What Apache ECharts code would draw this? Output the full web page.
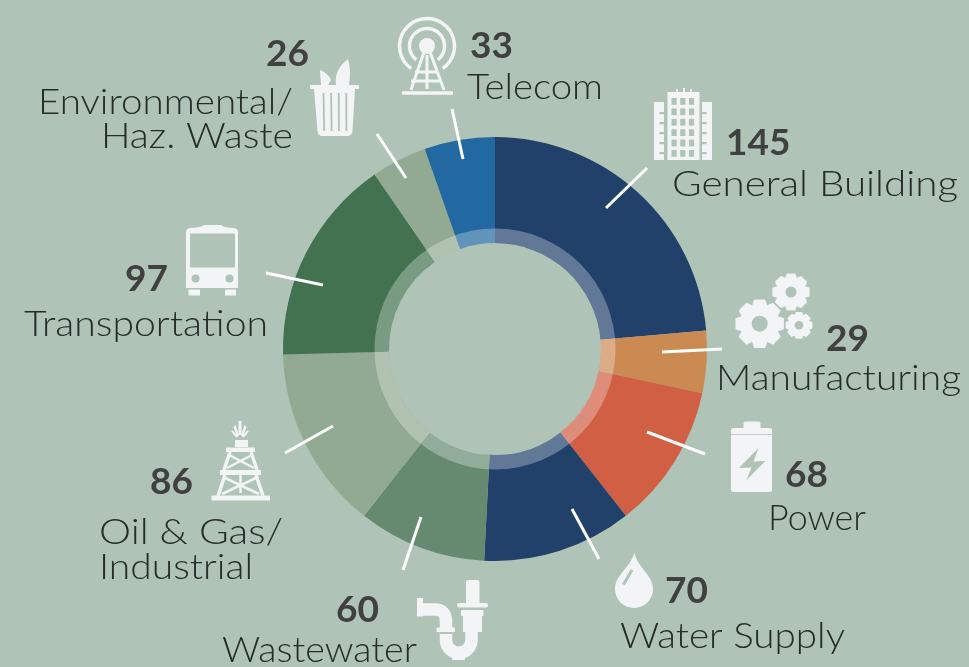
<!DOCTYPE html>
<html>
<head>
<meta charset="utf-8">
<title>Projects by market</title>
<style>
  html, body { margin: 0; padding: 0; background: #afc3b6; }
  #chart { width: 969px; height: 667px; }
</style>
<script src="https://cdn.jsdelivr.net/npm/echarts@6/dist/echarts.min.js"></script>
</head>
<body>
<div id="chart"></div>
<script>
// slices are drawn from the printed numbers
const categories = ['General Building', 'Manufacturing', 'Power', 'Water Supply', 'Wastewater', 'Oil & Gas/\nIndustrial', 'Transportation', 'Environmental/\nHaz. Waste', 'Telecom']
const sliceValues = [145, 29, 68, 70, 60, 86, 97, 26, 33]
const sliceColors = ['#21416b', '#cc8a53', '#d05f43', '#21416b', '#658a70', '#92a992', '#437250', '#92a992', '#2169a0']

const BG = '#afc3b6'
const ICON = '#f2f4f6'
const NAME_FONT = '300 36px Lato'
const NUMBER_FONT = 'bold 37px Lato'

// callout layout, same order as categories: number anchor, name anchor, align, width of each name line
const callouts = [
  { num: [726, 143], name: [672, 184], align: 'left', widths: [286] },
  { num: [826, 339], name: [716, 378], align: 'left', widths: [245] },
  { num: [785, 475], name: [768, 518], align: 'left', widths: [98] },
  { num: [665, 591], name: [620, 636], align: 'left', widths: [225] },
  { num: [336, 610], name: [222, 650], align: 'left', widths: [195] },
  { num: [150, 482], name: [99, 532, 567], align: 'left', widths: [184, 154] },
  { num: [125, 279], name: [24, 324], align: 'left', widths: [244] },
  { num: [266, 54], name: [293, 102, 136], align: 'right', widths: [255, 192] },
  { num: [470, 46], name: [467, 87], align: 'left', widths: [136] }
]

// white leader lines [x1, y1, x2, y2]
const leaders = [
  [606, 208, 647, 168], [662, 352, 722, 349], [647, 432, 705, 454],
  [572, 509, 599, 559], [421, 517, 403, 570], [333, 426, 285, 453],
  [323, 285, 266, 273], [406, 178, 377, 134], [463, 159, 452, 109]
]

const rect = (x, y, w, h, fill = ICON, r = 0) => ({ type: 'rect', z: 20, silent: true, shape: { x, y, width: w, height: h, r }, style: { fill } })
const line = (x1, y1, x2, y2, lineWidth = 3, stroke = ICON) => ({ type: 'line', z: 20, silent: true, shape: { x1, y1, x2, y2 }, style: { stroke, lineWidth } })
const circle = (cx, cy, r, fill = ICON) => ({ type: 'circle', z: 20, silent: true, shape: { cx, cy, r }, style: { fill } })
const poly = (points, fill = ICON, extra = {}) => ({ type: 'polygon', z: 20, silent: true, shape: { points }, style: { fill, ...extra } })
const arc = (cx, cy, r, startDeg, endDeg, lineWidth) => ({
  type: 'arc', z: 20, silent: true,
  shape: { cx, cy, r, startAngle: startDeg * Math.PI / 180, endAngle: endDeg * Math.PI / 180 },
  style: { stroke: ICON, fill: 'none', lineWidth }
})

// the graphic component has no plain path type, so each icon outline gets registered as a shape
let shapeCount = 0
const svg = (d, style) => {
  const name = 'iconPath' + shapeCount++
  echarts.graphic.registerShape(name, echarts.graphic.extendPath(d, {}))
  return { type: name, z: 20, silent: true, style }
}

function gear(cx, cy, r, hole, teeth) {
  const pts = []
  const step = Math.PI * 2 / teeth
  for (let i = 0; i < teeth; i++) {
    const a = i * step
    const rows = [[-0.5, 0.74], [-0.27, 0.96], [0.27, 0.96], [0.5, 0.74]]
    rows.forEach(([k, f]) => pts.push([cx + Math.cos(a + k * step) * r * f, cy + Math.sin(a + k * step) * r * f]))
  }
  return [poly(pts, ICON, { stroke: ICON, lineWidth: 1.5, lineJoin: 'round' }), circle(cx, cy, hole, BG)]
}

function telecomIcon() {
  return [
    arc(427, 46, 27.5, 125, 415, 3.5),
    arc(427, 46, 17.5, 128, 412, 3.5),
    circle(427, 46, 8),
    line(424, 52, 411, 90), line(430, 52, 444, 90), line(427, 55, 427, 89),
    line(415, 72, 438, 72), line(411, 81, 441, 81),
    line(402, 93, 453, 93, 3.5)
  ]
}

function buildingIcon() {
  const out = [rect(667.5, 92, 32, 68), rect(654, 102, 10, 58), rect(702, 102, 10, 58), rect(676, 89, 2, 4), rect(683, 88, 2, 4), rect(690, 89, 2, 4)]
  for (let row = 0; row < 6; row++) {
    for (let col = 0; col < 3; col++) out.push(rect(671.5 + col * 8.7, 98 + row * 10.4, 5.2, 6.8, BG))
    out.push(rect(659.5, 112 + row * 10, 4.5, 2.2, BG))
    out.push(rect(702, 112 + row * 10, 4.5, 2.2, BG))
  }
  return out
}

function binIcon() {
  const out = [
    svg('M320 70 Q328 73 331 80 L328 85 L321 85 Z', { fill: ICON }),
    svg('M348 59 C351 70 350 78 349 85 L336 85 C334 74 340 65 348 59 Z', { fill: ICON }),
    rect(310, 85, 49, 4),
    svg('M314 89 L355 89 L352.5 131 Q352 136 347 136 L322 136 Q318 136 317.5 131 Z', { fill: ICON })
  ]
  for (let i = 0; i < 4; i++) out.push(line(323.5 + i * 7.6, 93, 324.2 + i * 7.4, 131, 1.8, BG))
  return out
}

function busIcon() {
  return [
    svg('M186 232 Q186 228 191 228 Q203 227 204 225 L221 225 Q222 227 233 228 Q238 228 238 232 L238 288 L186 288 Z', { fill: ICON }),
    rect(190, 233.5, 45, 34, BG),
    circle(195.5, 278.5, 4, BG), circle(229.5, 278.5, 4, BG),
    rect(188.5, 289.5, 11.5, 6), rect(225, 289.5, 11, 6)
  ]
}

function derrickIcon() {
  return [
    line(240, 421, 240, 435, 3), line(234.5, 426, 238, 436, 2.5), line(245.5, 426, 242, 436, 2.5), line(232, 431, 237, 437, 2), line(248, 431, 243, 437, 2),
    rect(235, 440, 13, 7), rect(226, 447.5, 29, 4.5),
    line(230, 452, 224, 470, 3.5), line(251, 452, 257, 470, 3.5),
    line(229, 455, 254, 468, 2.5), line(252, 455, 227, 468, 2.5),
    rect(220, 470, 41, 5),
    line(225, 475, 218, 496, 3.5), line(256, 475, 263, 496, 3.5),
    line(223, 477, 259, 494, 2.5), line(258, 477, 222, 494, 2.5), line(240.5, 475, 240.5, 493, 2.5),
    rect(211.5, 495.5, 58.5, 5)
  ]
}

function pipeIcon() {
  return [
    rect(466, 580, 13.5, 24, ICON, [2, 2, 0, 0]), rect(457, 603, 31, 4.5, ICON, 2),
    rect(461, 610, 22.5, 6, ICON, 1), rect(463, 616, 19, 16),
    rect(417, 598, 6, 18.5),
    svg('M423 609.5 L435 609.5 Q446 609.5 446 622 L446 640 A 12.5 12.5 0 0 0 471.5 640 L471.5 632', { stroke: ICON, fill: 'none', lineWidth: 12.5 }),
    rect(436.5, 627.5, 18.5, 4.5, ICON, 1), rect(440, 632, 12, 2, BG),
    rect(452, 655, 13, 5, ICON, 1)
  ]
}

function batteryIcon() {
  return [
    rect(743.5, 421.5, 17, 8, ICON, 2), rect(731, 428, 41, 64, ICON, 2),
    rect(731, 434, 41, 0.8, BG),
    poly([[758.5, 448], [753.5, 461.5], [765.5, 461], [746.5, 480], [751.5, 467.5], [739, 468]], BG)
  ]
}

function dropIcon() {
  return [
    svg('M634.3 553 C630 568 615 575 615 589 A 19 19 0 0 0 653 589 C653 575 638 568 634.3 553 Z', { fill: ICON }),
    line(632, 570, 623.5, 584.5, 3, BG)
  ]
}

const iconParts = [
  ...telecomIcon(), ...buildingIcon(), ...binIcon(), ...busIcon(), ...derrickIcon(), ...pipeIcon(), ...batteryIcon(), ...dropIcon(),
  ...gear(759.7, 323.7, 25, 8, 8), ...gear(791, 292, 19, 5.5, 8), ...gear(799, 325.3, 13.5, 4.3, 8)
]

const leaderLines = leaders.map(([x1, y1, x2, y2]) => line(x1, y1, x2, y2, 3, '#ffffff'))

// the original face runs wider than Lato, so each name line is stretched to its measured width
const measure = document.createElement('canvas').getContext('2d')
measure.font = NAME_FONT

const calloutText = []
categories.forEach((name, i) => {
  const c = callouts[i]
  calloutText.push({
    type: 'text', z: 30, silent: true,
    style: { x: c.num[0], y: c.num[1], text: String(sliceValues[i]), font: NUMBER_FONT, fill: '#404040', textAlign: 'left', textVerticalAlign: 'middle' }
  })
  name.split('\n').forEach((part, k) => {
    calloutText.push({
      type: 'text', z: 30, silent: true,
      x: c.name[0], y: c.name[k + 1],
      scaleX: c.widths[k] / measure.measureText(part).width,
      style: { text: part, font: NAME_FONT, fill: '#262c28', textAlign: c.align, textVerticalAlign: 'middle' }
    })
  })
})

const chart = echarts.init(document.getElementById('chart'), null, { renderer: 'canvas' })
chart.setOption({
  backgroundColor: BG,
  animation: false,
  tooltip: { show: false },
  series: [
    {
      type: 'pie',
      center: [495, 349],
      radius: [106, 212],
      startAngle: 90,
      clockwise: true,
      silent: true,
      label: { show: false },
      labelLine: { show: false },
      data: categories.map((name, i) => ({ name, value: sliceValues[i], itemStyle: { color: sliceColors[i] } }))
    },
    {
      // pale ring over the inner edge of the slices
      type: 'pie',
      center: [495, 349],
      radius: [106, 120.5],
      silent: true,
      z: 5,
      label: { show: false },
      labelLine: { show: false },
      data: [{ value: 1, itemStyle: { color: 'rgba(255,255,255,0.29)' } }]
    }
  ],
  graphic: [...iconParts, ...leaderLines, ...calloutText]
})

window.addEventListener('resize', () => chart.resize())
</script>
</body>
</html>
